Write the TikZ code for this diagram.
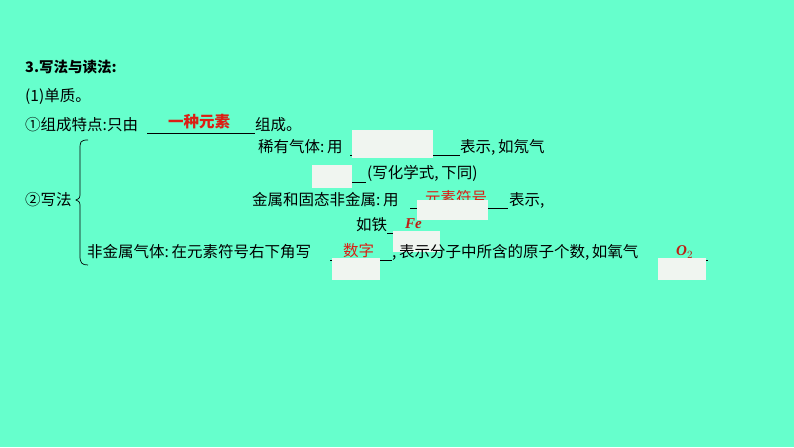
\documentclass[tikz,border=0pt]{standalone}
\usepackage{fontspec}
\setmainfont{Liberation Serif}
\newfontfamily\cjk{Noto Sans CJK SC}
\definecolor{bg}{RGB}{102,255,204}
\definecolor{blankc}{RGB}{240,245,240}
\definecolor{redc}{RGB}{220,30,20}
\definecolor{ansc}{RGB}{190,30,20}
\begin{document}
\begin{tikzpicture}[x=1pt,y=-1pt,
  txt/.style={anchor=west,inner sep=0pt,font=\cjk\fontsize{15.5}{17}\selectfont},
  red/.style={txt,text=redc,font=\cjk\bfseries\fontsize{15.5}{17}\selectfont},
  redn/.style={txt,text=redc},
  ans/.style={txt,text=ansc,font=\bfseries\itshape\fontsize{15}{17}\selectfont},
  blank/.style={fill=blankc,draw=none},
  uline/.style={line width=0.6pt}]
\fill[bg] (0,0) rectangle (794,447);
\node[txt,font=\cjk\bfseries\fontsize{14.5}{17}\selectfont] (t1) at (25,67) {3.写法与读法:};
\node[txt] (t2) at (25,97) {(1)单质。};
\node[txt] (t3) at (25,125) {①组成特点:只由};
\draw[uline] (147,133) -- (255,133);
\node[red] (a1) at (168,122) {一种元素};
\node[txt] (t4) at (255,125) {组成。};
\node[txt] (t5) at (25,200) {②写法};
\draw[line width=0.7pt] (88,140) .. controls (80,140) and (80,142) .. (80,150) -- (80,192) .. controls (80,198) .. (76,200) .. controls (80,202) .. (80,208) -- (80,256) .. controls (80,263) and (82,265) .. (88,265);
% row 1
\node[txt] (r1) at (258,147) {稀有气体:\,用};
\draw[uline] (350,155) -- (460,155);
\fill[blank] (352,130) rectangle (433,158);
\node[txt] (r1b) at (460,147) {表示,\,如氖气};
% row 2
\draw[uline] (352,182) -- (366,182);
\fill[blank] (312,165) rectangle (352,188);
\node[txt] (r2) at (367,173) {(写化学式,\,下同)};
% row 3
\node[txt] (r3) at (252,200) {金属和固态非金属:\,用};
\draw[uline] (410,208) -- (508,208);
\node[redn] (a3) at (425,198) {元素符号};
\fill[blank] (417,200) rectangle (488,220);
\node[txt] (r3b) at (509,200) {表示,};
% row 4
\node[txt] (r4) at (356,225) {如铁};
\draw[uline] (387,233) -- (440,233);
\node[ans] (a4) at (405,224) {Fe};
\fill[blank] (393,231) rectangle (440,252);
% row 5
\node[txt] (r5) at (87,252) {非金属气体:\,在元素符号右下角写};
\draw[uline] (330,260) -- (392,260);
\node[redn] (a5) at (343,251) {数字};
\fill[blank] (332,258) rectangle (380,280);
\node[txt] (r5b) at (392,252) {,\,表示分子中所含的原子个数,\,如氧气};
\draw[uline] (658,260) -- (708,260);
\node[ans] (a6) at (676,252) {O$_2$};
\fill[blank] (658,258) rectangle (706,280);
\end{tikzpicture}
\end{document}
